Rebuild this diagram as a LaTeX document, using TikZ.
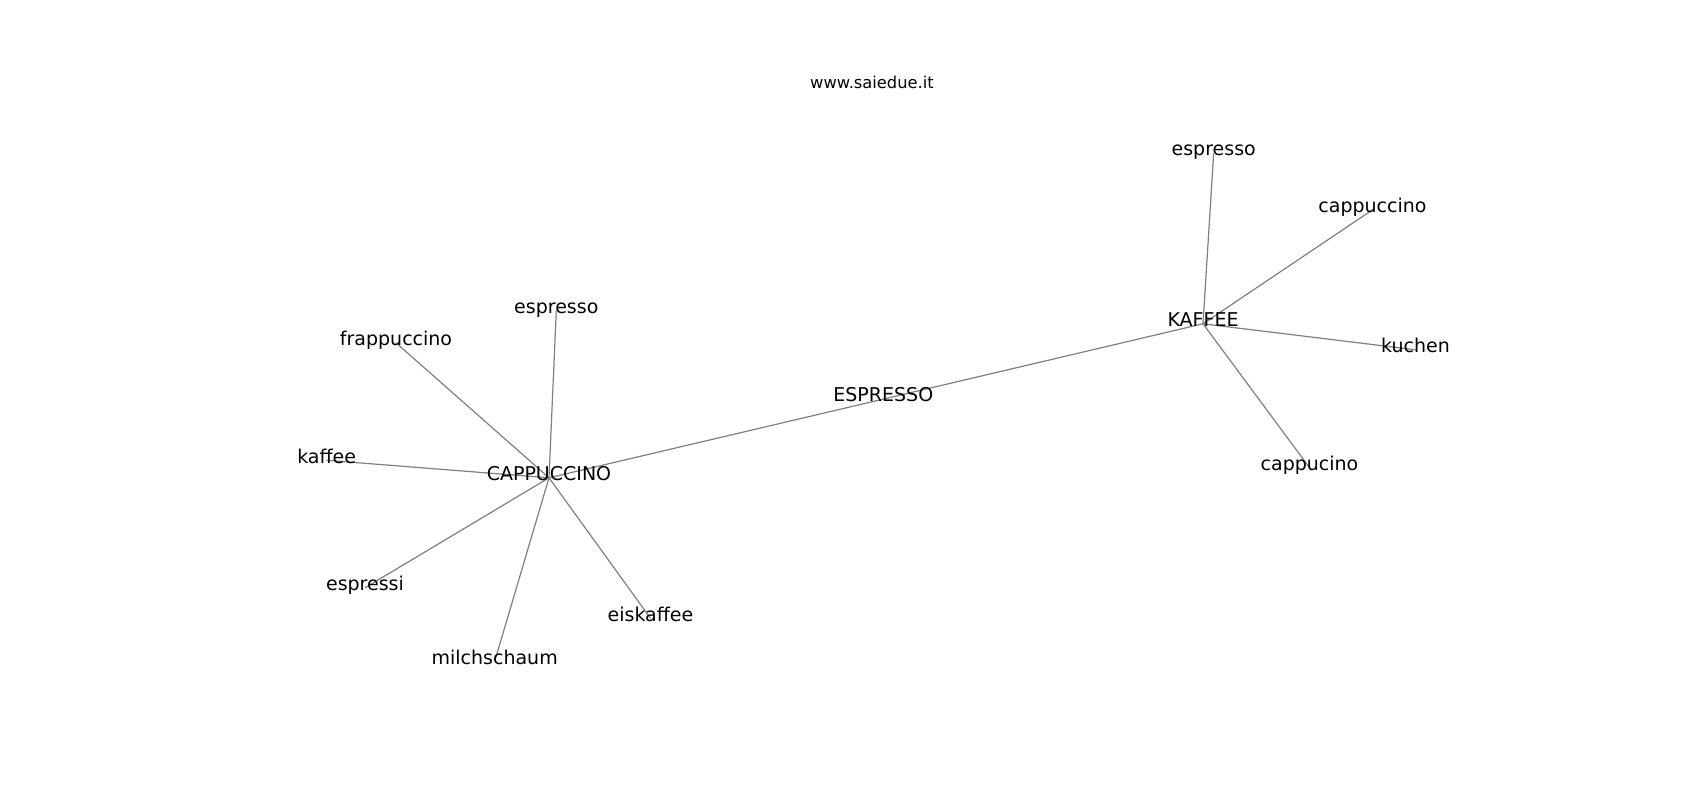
\documentclass[tikz,border=0pt]{standalone}
\usepackage{fontspec}
\setmainfont{DejaVu Sans}
\usetikzlibrary{backgrounds}
\begin{document}
\begin{tikzpicture}[x=1pt,y=-1pt,
  lbl/.style={inner sep=0pt, text height=0.76em, text depth=0.208em, anchor=center, font=\fontsize{19}{23}\selectfont, text=black},
  ttl/.style={inner sep=0pt, anchor=base, font=\fontsize{16.3}{20}\selectfont, text=black},
  edge/.style={draw=gray, line width=1.2pt}]
\useasboundingbox (0,0) rectangle (1700,800);
\node[ttl] (title) at (872,88.5) {www.saiedue.it};
% hubs
\node[lbl] (cap) at (549,477.8) {CAPPUCCINO};
\node[lbl] (esp) at (883.3,399.1) {ESPRESSO};
\node[lbl] (kaf) at (1203,323.8) {KAFFEE};
% CAPPUCCINO leaves
\node[lbl] (cespresso) at (556.3,310.3) {espresso};
\node[lbl] (cfrap) at (396,342.8) {frappuccino};
\node[lbl] (ckaffee) at (326.7,460.3) {kaffee};
\node[lbl] (cespressi) at (365,587.8) {espressi};
\node[lbl] (cmilch) at (494.7,661.3) {milchschaum};
\node[lbl] (ceis) at (650.5,618.3) {eiskaffee};
% KAFFEE leaves
\node[lbl] (kespresso) at (1213.7,152.8) {espresso};
\node[lbl] (kcappuccino) at (1372.5,209.8) {cappuccino};
\node[lbl] (kkuchen) at (1415.5,349.8) {kuchen};
\node[lbl] (kcappucino) at (1309.5,467.6) {cappucino};
\begin{scope}[on background layer]
\fill[white] (0,0) rectangle (1700,800);
\draw[edge] (cap.center) -- (esp.center);
\draw[edge] (esp.center) -- (kaf.center);
\draw[edge] (cap.center) -- (cespresso.center);
\draw[edge] (cap.center) -- (cfrap.center);
\draw[edge] (cap.center) -- (ckaffee.center);
\draw[edge] (cap.center) -- (cespressi.center);
\draw[edge] (cap.center) -- (cmilch.center);
\draw[edge] (cap.center) -- (ceis.center);
\draw[edge] (kaf.center) -- (kespresso.center);
\draw[edge] (kaf.center) -- (kcappuccino.center);
\draw[edge] (kaf.center) -- (kkuchen.center);
\draw[edge] (kaf.center) -- (kcappucino.center);
\end{scope}
\end{tikzpicture}
\end{document}
